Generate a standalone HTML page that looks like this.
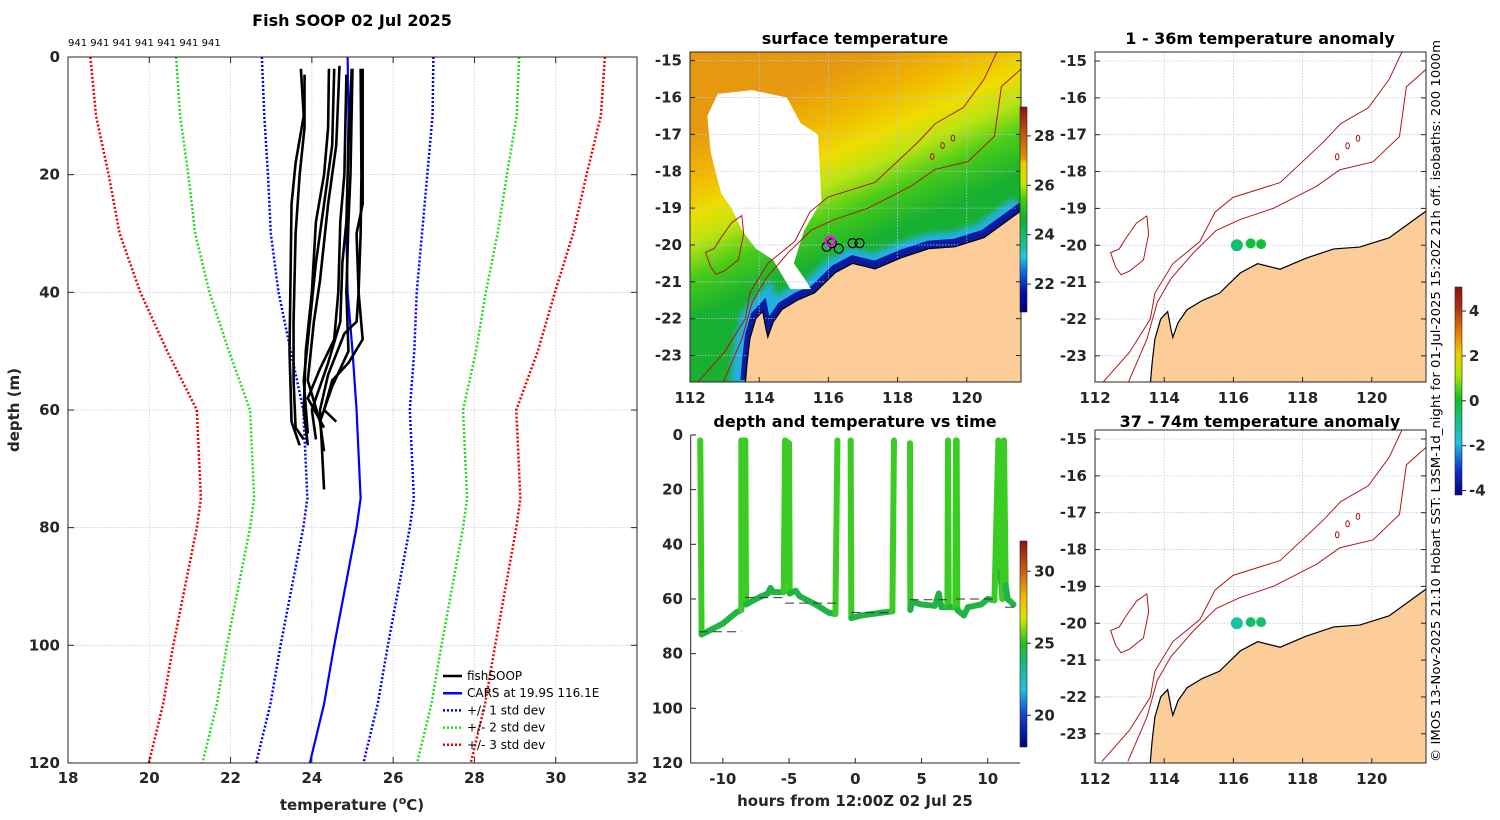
<!DOCTYPE html>
<html><head><meta charset="utf-8"><title>Fish SOOP 02 Jul 2025</title>
<style>
html,body{margin:0;padding:0;background:#fff;}
svg{display:block;font-family:"DejaVu Sans","Liberation Sans",sans-serif;}
.tk{font-size:15px;font-weight:bold;fill:#262626;}
.ttl{font-size:16px;font-weight:bold;fill:#000;}
</style></head>
<body>
<svg id="fig" width="1500" height="820" viewBox="0 0 1500 820" xmlns="http://www.w3.org/2000/svg">
<defs>
  <linearGradient id="sstField" gradientUnits="userSpaceOnUse" x1="861" y1="58" x2="930" y2="215">
    <stop offset="0" stop-color="#e6980f"/>
    <stop offset="0.25" stop-color="#f0b800"/>
    <stop offset="0.45" stop-color="#eedd00"/>
    <stop offset="0.6" stop-color="#b8e412"/>
    <stop offset="0.78" stop-color="#48cc18"/>
    <stop offset="1" stop-color="#18b030"/>
  </linearGradient>
  <linearGradient id="cbSst" x1="0" y1="1" x2="0" y2="0">
    <stop offset="0" stop-color="#00007a"/>
    <stop offset="0.1" stop-color="#0010b0"/>
    <stop offset="0.2" stop-color="#1070e0"/>
    <stop offset="0.27" stop-color="#20c8e0"/>
    <stop offset="0.33" stop-color="#18c090"/>
    <stop offset="0.45" stop-color="#10b030"/>
    <stop offset="0.55" stop-color="#40d010"/>
    <stop offset="0.63" stop-color="#c8e800"/>
    <stop offset="0.73" stop-color="#f0c800"/>
    <stop offset="0.75" stop-color="#e09000"/>
    <stop offset="0.88" stop-color="#c05010"/>
    <stop offset="1" stop-color="#901010"/>
  </linearGradient>
  <linearGradient id="cbTime" x1="0" y1="1" x2="0" y2="0">
    <stop offset="0" stop-color="#00007a"/>
    <stop offset="0.15" stop-color="#1040d0"/>
    <stop offset="0.28" stop-color="#20c0e0"/>
    <stop offset="0.4" stop-color="#18b880"/>
    <stop offset="0.5" stop-color="#20c020"/>
    <stop offset="0.63" stop-color="#d8e800"/>
    <stop offset="0.72" stop-color="#f0c000"/>
    <stop offset="0.85" stop-color="#d06010"/>
    <stop offset="1" stop-color="#901010"/>
  </linearGradient>
  <linearGradient id="cbAnom" x1="0" y1="1" x2="0" y2="0">
    <stop offset="0" stop-color="#00007a"/>
    <stop offset="0.12" stop-color="#1030d0"/>
    <stop offset="0.25" stop-color="#20c0e0"/>
    <stop offset="0.38" stop-color="#18c070"/>
    <stop offset="0.46" stop-color="#10c020"/>
    <stop offset="0.58" stop-color="#b0e800"/>
    <stop offset="0.68" stop-color="#f0c800"/>
    <stop offset="0.8" stop-color="#e07000"/>
    <stop offset="0.9" stop-color="#b03010"/>
    <stop offset="1" stop-color="#901010"/>
  </linearGradient>
  <clipPath id="clipSst"><rect x="690" y="52" width="331" height="330"/></clipPath>
  <clipPath id="clipA1"><rect x="1095" y="52" width="331" height="330"/></clipPath>
  <clipPath id="clipA2"><rect x="1095" y="430" width="331" height="333"/></clipPath>
  <filter id="blur3"><feGaussianBlur stdDeviation="3"/></filter>
</defs>
</svg>
<script>
// ---------- DATA ----------
const tempTicks=[18,20,22,24,26,28,30,32];
const depthTicks=[0,20,40,60,80,100,120];
const carsDepth=[0,10,20,30,40,50,60,75,80,100,110,120];
const carsMean=[24.88,24.9,24.88,24.85,24.88,25.0,25.1,25.2,25.1,24.55,24.3,23.95];
const carsSd=[2.11,2.07,1.96,1.86,1.70,1.52,1.31,1.31,1.31,1.32,1.32,1.32];
const profTemps=[
 [23.73,23.8,23.6,23.5,23.47,23.45,23.5,23.7],
 [23.82,23.82,23.7,23.6,23.55,23.55,23.6,23.8],
 [24.42,24.4,24.3,24.1,24.0,23.85,23.8,23.9],
 [24.55,24.5,24.3,24.1,23.95,23.8,23.9],
 [24.68,24.6,24.4,24.2,24.05,23.9,24.2],
 [24.85,24.8,24.7,24.65,24.55,24.2,23.9,24.3],
 [24.98,24.9,24.85,24.75,24.7,24.4,24.0,24.1],
 [25.2,25.22,25.2,25.15,25.1,24.8,24.4,24.2,24.3],
 [25.25,25.25,25.1,25.15,25.25,24.9,24.5,24.3,24.6],
 [25.0,24.95,24.9,24.85,24.9,24.5,24.2,24.3]
];
const profDepths=[
 [2,10,18,25,40,50,62,66],
 [3,12,20,30,45,55,63,65],
 [2,12,20,28,40,50,60,66],
 [2,15,25,35,45,55,64],
 [1.5,15,25,38,45,55,62],
 [3,20,28,40,48,53,58,63],
 [2,15,28,35,45,52,60,65],
 [2,20,30,40,45,47,54,60,73.5],
 [2,25,30,40,48,52,55,60,62],
 [2,20,28,40,50,56,62,67]
];
const hourTicks=[-10,-5,0,5,10];
const traceHours=[-11.7,-11.6,-11.2,-10,-9,-8.6,-8.6,-8.3,-8.25,-7.5,-6.6,-6.4,-6.2,-5.4,-5.3,-5.0,-4.95,-4.5,-4.2,-3,-2,-1.5,-1.35,null,-0.35,-0.3,0.5,2,2.8,2.92,null,4.13,4.15,4.3,5,6,6.3,6.5,6.95,7.0,7.05,7.55,7.6,7.65,7.7,8.2,8.5,9.5,10,10.5,10.8,10.95,11.1,11.22,11.35,11.5,11.94];
const traceDepths=[2,73,72,69,65,64,2,2,62,60,58,56,57.5,57.5,2,3,58,57,59,62,65,65.5,2,null,2,67,66,65,64.5,2,null,3,64,61,62,62.5,58,63,63,2,63,63,2,2,64,66,63,62,60,60.5,2,50,60,2,55,60,62];
const bottomStart=[-11.8,-8.3,-5.3,-0.3,4.1,7.6,11.3];
const bottomEnd=[-8.6,-5.3,-1.3,2.9,7.0,10.8,12.0];
const bottomDepth=[72,59.5,61.5,65,60.3,60,63];
const lonTicks=[112,114,116,118,120];
const latTicks=[-15,-16,-17,-18,-19,-20,-21,-22,-23];
const coastLon=[113.6,113.65,113.73,113.9,114.1,114.2,114.25,114.4,114.66,115.1,115.6,116.2,116.7,117.35,118.1,118.9,119.65,120.5,121.6];
const coastLat=[-23.75,-23.2,-22.55,-22.0,-21.8,-22.3,-22.5,-22.1,-21.75,-21.5,-21.3,-20.75,-20.5,-20.65,-20.35,-20.1,-20.05,-19.8,-19.05];
const iso200Lon=[112.95,113.5,113.8,114.2,114.85,115.5,116.2,117.15,118.4,119.08,120.03,120.8,121.0,121.6];
const iso200Lat=[-23.75,-22.55,-21.55,-20.9,-20.2,-19.6,-19.3,-19.0,-18.4,-17.95,-17.74,-17.05,-15.7,-15.2];
const iso1000Lon=[112.2,113.0,113.6,113.73,114.25,115.03,115.47,115.99,117.35,118.6,119.1,119.9,120.5,120.85,120.9];
const iso1000Lat=[-23.75,-22.9,-22.0,-21.3,-20.5,-19.9,-19.1,-18.7,-18.3,-17.2,-16.7,-16.27,-15.5,-14.8,-14.7];
const plateauLon=[113.5,113.55,113.4,113.0,112.75,112.6,112.45,112.7,112.9,113.2,113.5];
const plateauLat=[-19.2,-19.7,-20.4,-20.7,-20.8,-20.6,-20.2,-20.1,-19.8,-19.4,-19.2];
const reefLon=[119.0,119.3,119.6];
const reefLat=[-17.6,-17.3,-17.1];
const cloudLon=[112.8,113.8,114.8,115.2,115.7,115.8,115.3,115.0,115.3,115.5,114.9,114.4,113.9,113.5,113.2,112.9,112.6,112.5];
const cloudLat=[-15.9,-15.8,-16.0,-16.7,-17.0,-18.8,-19.6,-20.5,-20.9,-21.2,-21.2,-20.4,-20.1,-19.6,-19.0,-18.6,-17.5,-16.5];
const stationLon=[115.95,116.1,116.3,116.7,116.9];
const stationLat=[-20.05,-19.95,-20.1,-19.95,-19.95];
const anomLon1=[116.1,116.5,116.8];
const anomLat1=[-20.0,-19.95,-19.97];
const anomVal1=[-0.7,0.2,0.1];
const anomLon2=[116.1,116.5,116.8];
const anomLat2=[-20.0,-19.97,-19.97];
const anomVal2=[-1.4,-0.6,-0.5];
const sstCbTicks=[22,24,26,28];
const timeCbTicks=[20,25,30];
const anomCbTicks=[-4,-2,0,2,4];

// ---------- HELPERS ----------
const NS='http://www.w3.org/2000/svg';
const svg=document.getElementById('fig');
function mk(tag,attrs,parent){const e=document.createElementNS(NS,tag);for(const k in attrs)e.setAttribute(k,attrs[k]);(parent||svg).appendChild(e);return e;}
function txt(s,x,y,cls,anchor,parent){const e=mk('text',{x:x,y:y,'class':cls,'text-anchor':anchor||'middle'},parent);e.textContent=s;return e;}

// ---------- PANEL 1: profiles ----------
const tx=t=>68+(t-18)*40.643;
const dy=d=>57+d*5.883;
const g1=mk('g',{});


tempTicks.slice(1,-1).forEach(t=>{const l=mk('line',{x1:tx(t),x2:tx(t),y1:57,y2:763,stroke:'#d8c8d0','stroke-width':0.8,'stroke-dasharray':'1.5,1.5'},g1);});
depthTicks.slice(1,-1).forEach(d=>{const l=mk('line',{x1:68,x2:637,y1:dy(d),y2:dy(d),stroke:'#b8c4e8','stroke-width':0.8,'stroke-dasharray':'1.5,1.5'},g1);});
const sdCols=['#0000ff','#22dd22','#ee0000'];
[1,2,3].forEach((k,i)=>{[-1,1].forEach(s=>{
  const pts=carsDepth.map((d,j)=>tx(carsMean[j]+s*k*carsSd[j])+','+dy(d)).join(' ');
  const p=mk('polyline',{points:pts,fill:'none',stroke:sdCols[i],'stroke-width':2.5,'stroke-dasharray':'2,2'},g1);
  
  
});});
const cm=mk('polyline',{points:carsDepth.map((d,j)=>tx(carsMean[j])+','+dy(d)).join(' '),fill:'none',stroke:'#0000ff','stroke-width':2.2},g1);


profTemps.forEach((tt,i)=>{
  const p=mk('polyline',{points:tt.map((t,j)=>tx(t)+','+dy(profDepths[i][j])).join(' '),fill:'none',stroke:'#000','stroke-width':2.6,'stroke-linejoin':'round'},g1);
  
  
});
const b1=mk('rect',{x:68,y:57,width:569,height:706,fill:'none',stroke:'#262626','stroke-width':1},g1);


tempTicks.forEach(t=>{mk('line',{x1:tx(t),x2:tx(t),y1:763,y2:757,stroke:'#262626'},g1);mk('line',{x1:tx(t),x2:tx(t),y1:57,y2:63,stroke:'#262626'},g1);const e=txt(String(t),tx(t),783,'tk','middle',g1);});
depthTicks.forEach(d=>{mk('line',{x1:68,x2:74,y1:dy(d),y2:dy(d),stroke:'#262626'},g1);mk('line',{x1:637,x2:631,y1:dy(d),y2:dy(d),stroke:'#262626'},g1);const e=txt(String(d),60,dy(d)+5,'tk','end',g1);});
let e;
e=txt('Fish SOOP 02 Jul 2025',352,26,'ttl','middle',g1);
e=mk('text',{x:68,y:46,'font-size':'10px',fill:'#000'},g1);e.textContent='941 941 941 941 941 941 941';
e=mk('text',{x:352,y:810,'class':'tk','text-anchor':'middle','font-size':'16px'},g1);e.innerHTML='temperature (<tspan baseline-shift="super" font-size="11px">o</tspan>C)';
e=txt('depth (m)',0,0,'tk','middle',g1);e.setAttribute('transform','translate(19,410) rotate(-90)');e.setAttribute('font-size','16px');
const legLabels=['fishSOOP','CARS at 19.9S 116.1E','+/- 1 std dev','+/- 2 std dev','+/- 3 std dev'];
const legCols=['#000','#0000ff','#0000ff','#22dd22','#ee0000'];
legLabels.forEach((s,i)=>{const y=676+i*17.2;const lg=mk('g',{},g1);
 mk('line',{x1:443,x2:462,y1:y,y2:y,stroke:legCols[i],'stroke-width':2.5,'stroke-dasharray':i>=2?'2,2':'none'},lg);
 const t=mk('text',{x:467,y:y+4,'font-size':'12px',fill:'#000'},lg);t.textContent=s;});

// ---------- MAP HELPERS ----------
function mapFns(x0,y0){return [lon=>x0+(lon-112)*34.6, lat=>y0+(-15-lat)*36.85];}
function drawMap(g,x0,y0,clip,boxY,boxH,isSst){
  const [mx,my]=mapFns(x0,y0);
  const cg=mk('g',{'clip-path':'url(#'+clip+')'},g);
  if(isSst){
    const bg=mk('rect',{x:x0,y:boxY,width:331,height:boxH,fill:'url(#sstField)'},cg);
    
    const cpts=coastLon.map((l,i)=>mx(l)+','+my(coastLat[i])).join(' ');
    mk('polyline',{points:cpts,fill:'none',stroke:'#20b0e0','stroke-width':30,filter:'url(#blur3)'},cg);
    mk('polyline',{points:coastLon.map((l,i)=>mx(l)+','+(my(coastLat[i])-3)).join(' '),fill:'none',stroke:'#0a1aa0','stroke-width':10},cg);
    const cl=mk('polygon',{points:cloudLon.map((l,i)=>mx(l)+','+my(cloudLat[i])).join(' '),fill:'#fff'},cg);
    
  }
  lonTicks.forEach(l=>mk('line',{x1:mx(l),x2:mx(l),y1:boxY,y2:boxY+boxH,stroke:'#b8c4e8','stroke-width':0.8,'stroke-dasharray':'1.5,1.5'},cg));
  latTicks.forEach(l=>mk('line',{x1:x0,x2:x0+331,y1:my(l),y2:my(l),stroke:'#b8c4e8','stroke-width':0.8,'stroke-dasharray':'1.5,1.5'},cg));
  const landPts=coastLon.map((l,i)=>mx(l)+','+my(coastLat[i])).join(' ')+' '+(x0+340)+','+(boxY+boxH+10)+' '+mx(113.6)+','+(boxY+boxH+10);
  const land=mk('polygon',{points:landPts,fill:'#fccc99',stroke:'#000','stroke-width':1.2},cg);
  
  [[iso200Lon,iso200Lat,'isobath-200m'],[iso1000Lon,iso1000Lat,'isobath-1000m'],[plateauLon,plateauLat,'plateau-contour']].forEach(a=>{
    const p=mk('polyline',{points:a[0].map((l,i)=>mx(l)+','+my(a[1][i])).join(' '),fill:'none',stroke:'#b01818','stroke-width':1},cg);
    });
  reefLon.forEach((l,i)=>{const r=mk('ellipse',{cx:mx(l),cy:my(reefLat[i]),rx:1.8,ry:3,fill:'none',stroke:'#b01818','stroke-width':1},cg);});
  const bx=mk('rect',{x:x0,y:boxY,width:331,height:boxH,fill:'none',stroke:'#262626','stroke-width':1},g);
  
  lonTicks.forEach(l=>{const t=txt(String(l),mx(l),boxY+boxH+21,'tk','middle',g);mk('line',{x1:mx(l),x2:mx(l),y1:boxY+boxH,y2:boxY+boxH-5,stroke:'#262626'},g);});
  latTicks.forEach(l=>{if(my(l)<boxY||my(l)>boxY+boxH)return;const t=txt(String(l),x0-8,my(l)+5,'tk','end',g);mk('line',{x1:x0,x2:x0+5,y1:my(l),y2:my(l),stroke:'#262626'},g);mk('line',{x1:x0+331,x2:x0+326,y1:my(l),y2:my(l),stroke:'#262626'},g);});
  return [mx,my,cg];
}

// ---------- PANEL 2: SST map ----------
const g2=mk('g',{});


const [sx,sy,scg]=drawMap(g2,690,60.7,'clipSst',52,330,true);
stationLon.forEach((l,i)=>{const c=mk('circle',{cx:sx(l),cy:sy(stationLat[i]),r:4.5,fill:'none',stroke:'#000','stroke-width':1.2},scg);});
e=mk('circle',{cx:sx(116.05),cy:sy(-19.9),r:4.5,fill:'none',stroke:'#ff00ff','stroke-width':2.2},scg);
e=txt('surface temperature',855,44,'ttl','middle',g2);
function colorbar(g,x,y0,y1,vmin,vmax,grad,ticks,name){
  const r=mk('rect',{x:x,y:y0,width:7,height:y1-y0,fill:'url(#'+grad+')',stroke:'#262626','stroke-width':0.6},g);
  
  ticks.forEach(v=>{const y=y1-(v-vmin)/(vmax-vmin)*(y1-y0);mk('line',{x1:x+7,x2:x+11,y1:y,y2:y,stroke:'#262626'},g);const t=txt(String(v),x+14,y+5,'tk','start',g);t.setAttribute('font-size','13px');});
}
colorbar(g2,1020,107,312,20.87,29.17,'cbSst',sstCbTicks,'sst-colorbar');

// ---------- PANEL 3: depth vs time ----------
const hx=h=>855.3+h*13.25;
const hy=d=>435+d*2.733;
const g3=mk('g',{});


let seg=[];
function flush(){if(seg.length>1){for(let i=1;i<seg.length;i++){const a=seg[i-1],b=seg[i];const col=(a[1]+b[1])/2<40?'#3acc22':'#1fb444';const l=mk('line',{x1:hx(a[0]),y1:hy(a[1]),x2:hx(b[0]),y2:hy(b[1]),stroke:col,'stroke-width':6,'stroke-linecap':'round'},g3);}}seg=[];}
traceHours.forEach((h,i)=>{if(h===null){flush();}else seg.push([h,traceDepths[i]]);});flush();
bottomStart.forEach((h,i)=>{const l=mk('line',{x1:hx(h),x2:hx(bottomEnd[i]),y1:hy(bottomDepth[i]),y2:hy(bottomDepth[i]),stroke:'#333','stroke-width':1,'stroke-dasharray':'9,5'},g3);});
mk('line',{x1:690.7,x2:690.7,y1:435,y2:763,stroke:'#262626'},g3);
mk('line',{x1:690.7,x2:1020,y1:763,y2:763,stroke:'#262626'},g3);
hourTicks.forEach(h=>{mk('line',{x1:hx(h),x2:hx(h),y1:763,y2:758,stroke:'#262626'},g3);const t=txt(String(h),hx(h),784,'tk','middle',g3);});
depthTicks.forEach(d=>{mk('line',{x1:690.7,x2:696,y1:hy(d),y2:hy(d),stroke:'#262626'},g3);const t=txt(String(d),683,hy(d)+5,'tk','end',g3);});
e=txt('depth and temperature vs time',855,427,'ttl','middle',g3);
e=txt('hours from 12:00Z 02 Jul 25',855,806,'tk','middle',g3);e.setAttribute('font-size','16px');
colorbar(g3,1020,541,747,17.8,32.1,'cbTime',timeCbTicks,'time-temp-colorbar');

// ---------- PANELS 4/5: anomaly maps ----------
const anomColor=v=>v<-1?'#14c4a0':(v<-0.3?'#12c070':'#10c038');
[[61,52,330,'clipA1','1 - 36m temperature anomaly',44,anomLon1,anomLat1,anomVal1,'anomaly-map-shallow'],
 [439,430,333,'clipA2','37 - 74m temperature anomaly',427,anomLon2,anomLat2,anomVal2,'anomaly-map-deep']].forEach(c=>{
  const g=mk('g',{});
  
  
  const [ax,ay,acg]=drawMap(g,1095,c[0],c[3],c[1],c[2],false);
  c[6].forEach((l,i)=>{const d=mk('circle',{cx:ax(l),cy:ay(c[7][i]),r:i==0?6:5,fill:anomColor(c[8][i])},acg);});
  const t=txt(c[4],1260,c[5],'ttl','middle',g);
});
colorbar(svg,1455,287,495,-4.2,5.07,'cbAnom',anomCbTicks,'anomaly-colorbar');
e=mk('text',{x:0,y:0,'font-size':'12.5px',fill:'#000',textLength:722,lengthAdjust:'spacingAndGlyphs',transform:'translate(1440,762) rotate(-90)'});
e.textContent='\u00a9 IMOS 13-Nov-2025 21:10 Hobart SST: L3SM-1d_night for 01-Jul-2025 15:20Z 21h off. isobaths: 200  1000m';


</script>
</body></html>
